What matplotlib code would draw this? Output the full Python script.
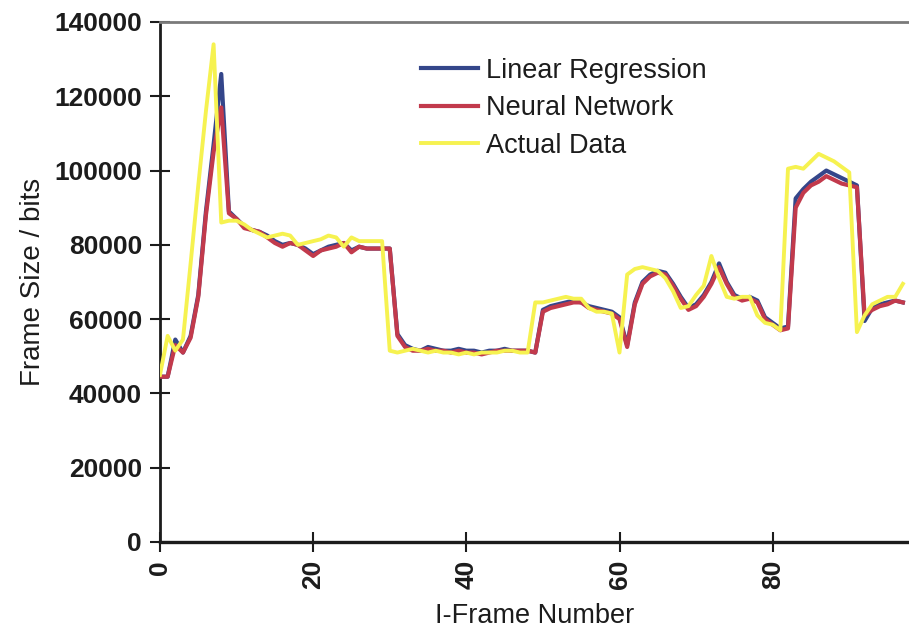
import matplotlib.pyplot as plt

frames = list(range(98))

actual = [45000, 55500, 51500, 54500, 75000, 96000, 116000, 134000, 86000, 86500,
          86500, 85500, 84000, 83000, 82000, 82500, 83000, 82500, 80000, 80500,
          81000, 81500, 82500, 82000, 79500, 82000, 81000, 81000, 81000, 81000,
          51500, 51000, 51500, 52000, 51500, 51000, 51500, 51000, 51000, 50500,
          51000, 50500, 51000, 51000, 51000, 51500, 51500, 51000, 51000, 64500,
          64500, 65000, 65500, 66000, 65500, 65500, 63000, 62000, 62000, 61500,
          51000, 72000, 73500, 74000, 73500, 73000, 71000, 67500, 63000, 63500,
          66500, 69000, 77000, 71000, 66000, 65500, 66000, 66000, 61000, 59000,
          58500, 57000, 100500, 101000, 100500, 102500, 104500, 103500, 102500, 101000,
          99500, 56500, 61000, 64000, 65000, 66000, 66000, 69500]

neural = [44500, 44500, 53000, 51000, 55000, 66000, 88000, 105000, 117000, 88500,
          87000, 84500, 84000, 83500, 82000, 80500, 79500, 80500, 80000, 78500,
          77000, 78500, 79000, 79500, 80500, 78000, 79500, 79000, 79000, 79000,
          79000, 55500, 52500, 51500, 51500, 52000, 51500, 51500, 51000, 51500,
          51000, 51000, 50500, 51000, 51500, 51500, 51500, 51500, 51500, 51000,
          62000, 63000, 63500, 64000, 64500, 64500, 63000, 62500, 62000, 61500,
          60000, 52500, 64000, 69500, 71500, 72500, 72000, 69000, 65500, 62500,
          63500, 66000, 69500, 74000, 69500, 66000, 65000, 65500, 64500, 60000,
          58500, 57000, 57500, 90000, 94000, 96000, 97000, 98500, 97500, 96500,
          96000, 95500, 61000, 62500, 63500, 64000, 65000, 64500]

linear = [44500, 44500, 54500, 51000, 55500, 66500, 89000, 107000, 126000, 89000,
          87000, 85000, 84000, 83500, 82500, 81000, 80000, 80500, 80000, 79000,
          77500, 78500, 79500, 80000, 80500, 78500, 79500, 79000, 79000, 79000,
          79000, 56000, 53000, 52000, 51500, 52500, 52000, 51500, 51500, 52000,
          51500, 51500, 51000, 51500, 51500, 52000, 51500, 51500, 51500, 51000,
          62500, 63500, 64000, 64500, 65000, 64500, 63500, 63000, 62500, 62000,
          60500, 53000, 64500, 70000, 72000, 73000, 72500, 69500, 66000, 63000,
          64000, 66500, 70000, 75000, 70000, 66500, 65500, 66000, 65000, 60500,
          59000, 57500, 58000, 92500, 95000, 97000, 98500, 100000, 99000, 98000,
          97000, 96000, 59500, 63000, 64000, 64500, 65000, 64500]

yticks = [0, 20000, 40000, 60000, 80000, 100000, 120000, 140000]
xticks = [0, 20, 40, 60, 80]

plt.rcParams['font.family'] = ['Liberation Sans', 'DejaVu Sans']
ink = '#1c1c1c'

fig = plt.figure(figsize=(9.09, 6.3), dpi=100)
ax = fig.add_axes([0.176, 0.1397, 0.824, 0.8254])

ax.plot(frames, linear, color='#34468a', lw=3.0, label='Linear Regression', zorder=2)
ax.plot(frames, neural, color='#c23a4c', lw=3.0, label='Neural Network', zorder=3)
ax.plot(frames, actual, color='#f6f250', lw=2.8, label='Actual Data', zorder=4)

ax.set_xlim(0, 97.8)
ax.set_ylim(0, 140000)
ax.set_xticks(xticks)
ax.set_yticks(yticks)
ax.set_xticklabels([str(t) for t in xticks], rotation=90, fontsize=19,
                   fontweight='bold', color=ink)
ax.set_yticklabels([str(t) for t in yticks], fontsize=19, fontweight='bold', color=ink)
ax.tick_params(axis='both', direction='inout', length=14, width=1.5, color=ink, pad=6)

ax.spines['right'].set_visible(False)
ax.spines['top'].set_color('#7a7a7a')
ax.spines['top'].set_linewidth(2)
ax.spines['left'].set_color(ink)
ax.spines['left'].set_linewidth(2)
ax.spines['bottom'].set_color(ink)
ax.spines['bottom'].set_linewidth(2.4)

ax.set_xlabel('I-Frame Number', fontsize=19.5, color=ink, labelpad=10)
ax.set_ylabel('Frame Size / bits', fontsize=20, color=ink, labelpad=6)

leg = ax.legend(loc='upper left', bbox_to_anchor=(0.348, 0.931), frameon=False,
                fontsize=19.5, handlelength=2.1, handletextpad=0.3,
                labelspacing=0.42, borderpad=0, borderaxespad=0)
for t in leg.get_texts():
    t.set_color(ink)

fig.savefig('out.png', dpi=100)
